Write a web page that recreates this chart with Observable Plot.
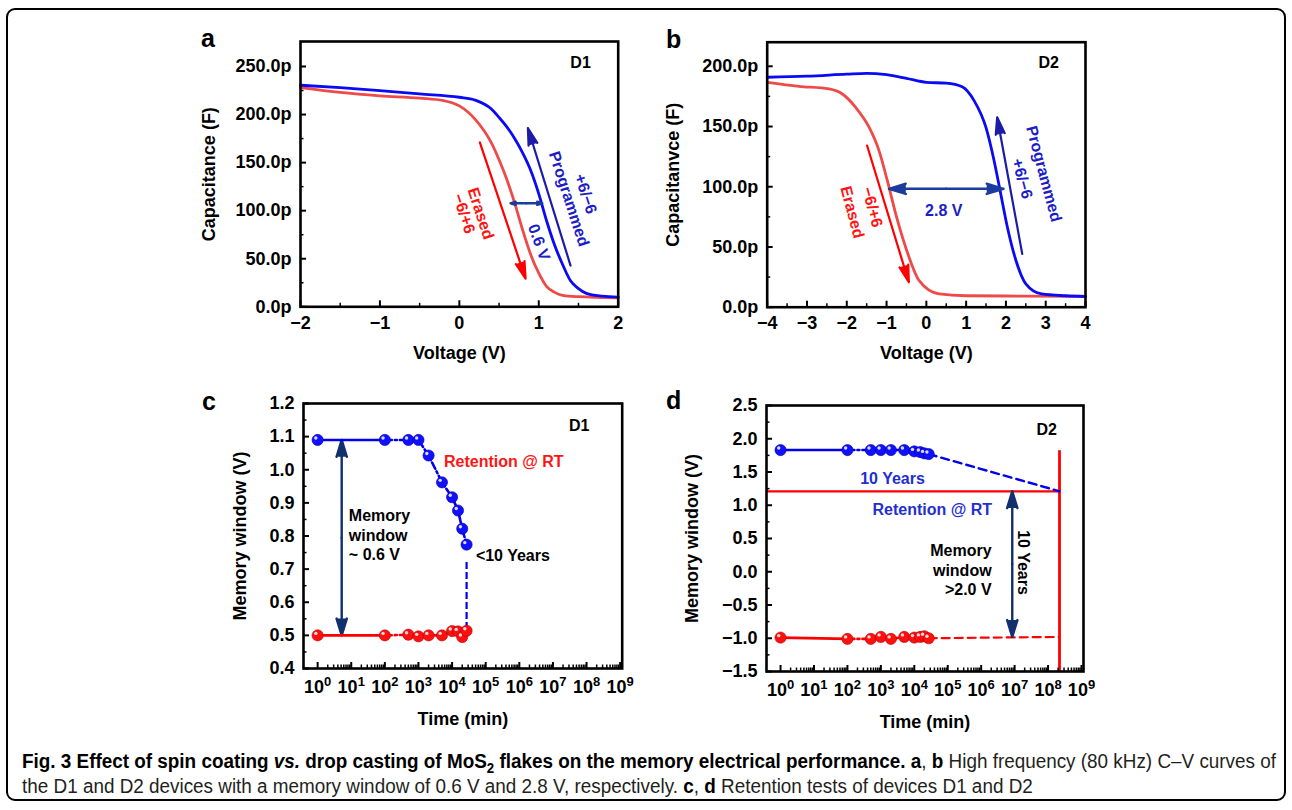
<!DOCTYPE html>
<html><head><meta charset="utf-8">
<script src="https://cdn.jsdelivr.net/npm/d3@7"></script>
<script src="https://cdn.jsdelivr.net/npm/@observablehq/plot@0.6"></script>
<style>
body{margin:0;background:#fff;}
#page{position:relative;width:1292px;height:810px;background:#fff;overflow:hidden;}
.box{position:absolute;left:6px;top:8px;width:1276px;height:789px;border:2px solid #000;border-radius:9px;box-sizing:content-box;}
.panel{position:absolute;}
.plabel{position:absolute;font:bold 25px "Liberation Sans",Arial,sans-serif;line-height:25px;color:#000;}
.cap{position:absolute;left:22px;font-family:"Liberation Sans",Arial,sans-serif;font-size:20px;line-height:25px;color:#231f20;white-space:nowrap;}
.cap span.in{display:inline-block;transform-origin:0 0;}
.cap b{color:#000;}
</style></head>
<body><div id="page">
<div class="box"></div>
<div class="plabel" style="left:201px;top:26px">a</div>
<div class="plabel" style="left:666px;top:27px">b</div>
<div class="plabel" style="left:202px;top:389px">c</div>
<div class="plabel" style="left:666px;top:388px">d</div>
<div class="cap" style="top:749px"><span class="in" id="cap1"><b>Fig. 3 Effect of spin coating <i>vs.</i> drop casting of MoS<sub style="font-size:14px;line-height:0">2</sub> flakes on the memory electrical performance.</b> <b>a</b>, <b>b</b> High frequency (80 kHz) C–V curves of</span></div>
<div class="cap" style="top:774px"><span class="in" id="cap2">the D1 and D2 devices with a memory window of 0.6 V and 2.8 V, respectively. <b>c</b>, <b>d</b> Retention tests of devices D1 and D2</span></div>
</div>
<script>
// ---------------- data ----------------
// Panel a (D1) C–V curves
const voltAProg = [-2,-1.5,-1,-0.5,0,0.2,0.4,0.5,0.6,0.7,0.8,0.9,1.0,1.1,1.2,1.3,1.4,1.5,1.6,1.8,2.0];
const capAProg  = [230.5,228,225,221.5,218,215,206,197,187,174.5,159.5,141.5,117.5,89,64,44,27,19,14,11,10];
const voltAErase = [-2,-1.5,-1,-0.5,-0.2,0,0.2,0.4,0.5,0.6,0.7,0.8,0.9,1.0,1.1,1.2,1.3,1.5,2.0];
const capAErase  = [228,223,219.5,217,214.5,209,195,171,153,132,107,79,54,35,21,15,12,10.5,9.3];
// Panel b (D2) C–V curves
const voltBProg = [-4,-3,-2,-1.5,-1,-0.5,0,0.5,0.9,1.2,1.5,1.7,1.87,2.04,2.25,2.5,2.9,3.5,4];
const capBProg  = [190.9,191.8,193.5,194.2,193,190,186.7,186,183,171.5,149,122,94,66,39,19.4,11,9.5,8.9];
const voltBErase = [-4,-3.2,-2.45,-2.11,-1.78,-1.44,-1.19,-0.98,-0.77,-0.52,-0.18,0.32,1,2,4];
const capBErase  = [186.7,183.4,181.2,177,166,149.4,130,105,77.5,49.8,22,11,9.5,9.3,9];
// Panel c (D1) retention
const timeC = [1,100,500,1000,2000,5000,1e4,1.5e4,2e4,2.7e4];
const progC = [1.09,1.09,1.09,1.09,1.043,0.962,0.917,0.877,0.822,0.774];
const eraseC = [0.50,0.50,0.502,0.497,0.50,0.50,0.513,0.512,0.495,0.514];
// Panel d (D2) retention
const timeD = [1,100,500,1000,2000,5000,1e4,1.5e4,2e4,2.7e4];
const progD = [1.83,1.83,1.83,1.83,1.83,1.83,1.81,1.80,1.78,1.77];
const eraseD = [-0.99,-1.01,-1.01,-0.98,-1.01,-0.98,-0.99,-0.98,-0.97,-1.0];
// annotation values
const sweepArrowsA = [{x1:0.258,y1:171,x2:0.834,y2:29.2,c:"erase"},{x1:1.40,y1:42.9,x2:0.863,y2:186,c:"prog"}];
const windowA = [{x1:0.645,x2:1.044,y:107.7}];
const sweepArrowsB = [{x1:-1.49,y1:134.2,x2:-0.44,y2:20.7,c:"erase"},{x1:2.41,y1:44.3,x2:1.78,y2:157.7,c:"prog"}];
const windowB = [{x1:-0.94,x2:1.94,y:98.3}];
const labelsA = [
  {x:0.267,y:96.9,t:"Erased",c:"erase",r:72},{x:0.057,y:96.9,t:"−6/+6",c:"erase",r:72},
  {x:1.379,y:112.2,t:"Programmed",c:"prog",r:72},{x:1.589,y:117.4,t:"+6/−6",c:"prog",r:72},
  {x:1.001,y:67.1,t:"0.6 V",c:"prog",r:70},{x:1.526,y:254.2,t:"D1",c:"k",r:0}];
const labelsB = [
  {x:-1.864,y:78.8,t:"Erased",c:"erase",r:75},{x:-1.362,y:83,t:"−6/+6",c:"erase",r:75},
  {x:2.95,y:110.7,t:"Programmed",c:"prog",r:75},{x:2.407,y:106.6,t:"+6/−6",c:"prog",r:75},
  {x:0.437,y:80.2,t:"2.8 V",c:"prog",r:0},{x:3.075,y:202.5,t:"D2",c:"k",r:0}];
const cutoffC = [{t:2.7e4,y1:0.72,y2:0.515}];
const windowC = [{t:5.2,y1:1.09,y2:0.50}];
const labelsC = [
  {t:8.5,y:0.805,s:"Memory\nwindow\n~ 0.6 V",c:"k",a:"start",r:0},
  {t:5750,y:1.028,s:"Retention @ RT",c:"erase",a:"start",r:0},
  {t:5.1e4,y:0.744,s:"<10 Years",c:"k",a:"start",r:0},
  {t:6e7,y:1.137,s:"D1",c:"k",a:"middle",r:0}];
const tenYearD = [{t:2.2e8,prog:1.21,erase:-0.98,top:1.82}];
const windowD = [{t:8.5e6,y1:1.21,y2:-0.98}];
const labelsD = [
  {t:2230,y:1.417,s:"10 Years",c:"blueT",a:"middle",r:0},
  {t:3.45e4,y:0.947,s:"Retention @ RT",c:"blueT",a:"middle",r:0},
  {t:2.05e6,y:0.034,s:"Memory\nwindow\n>2.0 V",c:"k",a:"end",r:0},
  {t:1.9e7,y:0.139,s:"10 Years",c:"k",a:"middle",r:90},
  {t:9.1e7,y:2.154,s:"D2",c:"k",a:"middle",r:0}];

// ---------------- styling ----------------
const FONT = '"Liberation Sans", Arial, sans-serif';
const BLUE = "#0a0af5", RED = "#ef4a4a", PURE_RED = "#ff0000", DARKBLUE = "#1c1ca8", NAVY = "#12306e", DBL = "#1b3c9c";
const colorOf = {erase:"#ff1414", prog:"#1d1dc8", k:"#000", blueT:"#1f2fd2"};
const sup = "⁰¹²³⁴⁵⁶⁷⁸⁹";
const decades = d3.range(0,10).map(k => 10**k);
const minorDec = d3.range(0,9).flatMap(k => d3.range(2,10).map(m => m*10**k));
const SVGNS = "http://www.w3.org/2000/svg";

function geom(p){
  return {width:p.width,height:p.height,marginLeft:p.fl-p.left,marginRight:p.left+p.width-p.fr,
          marginTop:p.ft-p.top,marginBottom:p.top+p.height-p.fb,W:p.fr-p.fl,H:p.fb-p.ft};
}
function ticks(g, xMaj, xMin, yMaj, yMin){
  return [
    Plot.tickX(xMaj,{x:d=>d,insetTop:g.H-6,stroke:"#000",strokeWidth:2}),
    Plot.tickX(xMin,{x:d=>d,insetTop:g.H-3.5,stroke:"#000",strokeWidth:1.5}),
    Plot.tickY(yMaj,{y:d=>d,insetRight:g.W-6,stroke:"#000",strokeWidth:2}),
    Plot.tickY(yMin,{y:d=>d,insetRight:g.W-3.5,stroke:"#000",strokeWidth:1.5})
  ];
}
function place(p, svg){
  const div = document.createElement("div");
  div.className = "panel"; div.style.left = p.left+"px"; div.style.top = p.top+"px";
  div.appendChild(svg); document.getElementById("page").appendChild(div);
}
function style(){ return {fontFamily:FONT,fontSize:"18px",fontWeight:"bold",background:"transparent",overflow:"visible",color:"#000"}; }
function doubleArrow(rows, horiz, color, logMid){
  const mid = (a,b) => logMid ? Math.sqrt(a*b) : (a+b)/2;
  const opts = {stroke:color,fill:color,strokeWidth:2.4,headLength:11,headAngle:34,strokeLinejoin:"miter"};
  if (horiz) return [
    Plot.arrow(rows,{x1:d=>mid(d.x1,d.x2),x2:"x1",y1:"y",y2:"y",...opts}),
    Plot.arrow(rows,{x1:d=>mid(d.x1,d.x2),x2:"x2",y1:"y",y2:"y",...opts})];
  return [
    Plot.arrow(rows,{x1:"t",x2:"t",y1:d=>(d.y1+d.y2)/2,y2:"y1",...opts}),
    Plot.arrow(rows,{x1:"t",x2:"t",y1:d=>(d.y1+d.y2)/2,y2:"y2",...opts})];
}
function textsByAnchor(rows){
  return ["start","middle","end"].map(a => Plot.text(rows,{filter:d=>d.a===a,x:"t",y:"y",text:"s",rotate:"r",
    fill:d=>colorOf[d.c],textAnchor:a,fontSize:16,fontWeight:"bold",lineHeight:1.2,lineAnchor:"middle"}));
}
function cvPanel(p, xDom, yDom, xMaj, xMin, yMaj, yMin, ylabel, ylabOff, prog, erase, arrows, win, labels){
  const g = geom(p);
  const arrowColor = d => d.c==="erase"?PURE_RED:DARKBLUE;
  return Plot.plot({
    width:g.width,height:g.height,marginLeft:g.marginLeft,marginRight:g.marginRight,marginTop:g.marginTop,marginBottom:g.marginBottom,
    style:style(),
    x:{domain:xDom},y:{domain:yDom},
    marks:[
      Plot.line(erase,{x:"v",y:"c",stroke:RED,strokeWidth:2.8,curve:"monotone-x"}),
      Plot.line(prog,{x:"v",y:"c",stroke:BLUE,strokeWidth:2.8,curve:"monotone-x"}),
      Plot.arrow(arrows,{x1:"x1",y1:"y1",x2:"x2",y2:"y2",stroke:arrowColor,fill:arrowColor,strokeWidth:2.2,headLength:12,headAngle:30,strokeLinejoin:"miter"}),
      ...doubleArrow(win,true,DBL,false),
      Plot.text(labels,{x:"x",y:"y",text:"t",rotate:"r",fill:d=>colorOf[d.c],fontSize:16,fontWeight:"bold",textAnchor:"middle",lineAnchor:"middle"}),
      ...ticks(g,xMaj,xMin,yMaj,yMin),
      Plot.axisX({ticks:xMaj,tickSize:0,tickPadding:9,tickFormat:d=>d3.format("d")(d).replace("-","−"),label:"Voltage (V)",labelAnchor:"center",labelOffset:52,labelArrow:"none"}),
      Plot.axisY({ticks:yMaj,tickSize:0,tickPadding:9,tickFormat:d=>d.toFixed(1)+"p",label:ylabel,labelAnchor:"center",labelOffset:ylabOff,labelArrow:"none"}),
      Plot.frame({stroke:"#000",strokeWidth:2.6})
    ]
  });
}
function balls(rows, fill, edge){
  return [
    Plot.dot(rows,{x:"t",y:"v",r:5.6,fill,stroke:edge,strokeWidth:0.6}),
    Plot.dot(rows,{x:"t",y:"v",r:1.7,fill:"#fff",fillOpacity:0.85,dx:-1.8,dy:-2})
  ];
}
function superscripts(svg){
  svg.querySelectorAll('[aria-label="x-axis tick label"] text').forEach(t => {
    const s = t.textContent;
    if (!s.startsWith("10")) return;
    const e = s.slice(2).split("").map(ch => sup.indexOf(ch)).join("");
    while (t.firstChild) t.removeChild(t.firstChild);
    const a = document.createElementNS(SVGNS,"tspan"); a.textContent = "10";
    const b = document.createElementNS(SVGNS,"tspan"); b.textContent = e;
    b.setAttribute("font-size","13px"); b.setAttribute("dy","-0.55em");
    t.appendChild(a); t.appendChild(b);
  });
  return svg;
}
function retPanel(p, yDom, yMaj, yMin, ylabOff, prog, erase, extra){
  const g = geom(p);
  const seg = (rows, color) => [
    Plot.line(rows.slice(0,2),{x:"t",y:"v",stroke:color,strokeWidth:2.6}),
    Plot.line(rows.slice(1),{x:"t",y:"v",stroke:color,strokeWidth:2.6,strokeDasharray:"7,3,2,3"})];
  return superscripts(Plot.plot({
    width:g.width,height:g.height,marginLeft:g.marginLeft,marginRight:g.marginRight,marginTop:g.marginTop,marginBottom:g.marginBottom,
    style:style(),
    x:{type:"log",domain:[10**-0.42,10**9.06]},y:{domain:yDom},
    marks:[
      ...extra,
      ...seg(prog,"#0000ee"), ...seg(erase,"#ff0000"),
      ...balls(erase,"#ff1010","#b00000"), ...balls(prog,"#1010ff","#0000a0"),
      ...ticks(g,decades,minorDec,yMaj,yMin),
      Plot.axisX({ticks:decades,tickSize:0,tickPadding:12,tickFormat:d=>"10"+sup[Math.round(Math.log10(d))],label:"Time (min)",labelAnchor:"center",labelOffset:56,labelArrow:"none"}),
      Plot.axisY({ticks:yMaj,tickSize:0,tickPadding:9,tickFormat:d=>d3.format(".1f")(d).replace("-","−"),label:"Memory window (V)",labelAnchor:"center",labelOffset:ylabOff,labelArrow:"none"}),
      Plot.frame({stroke:"#000",strokeWidth:2.6})
    ]
  }));
}

// ---------------- panels ----------------
const PA = {left:190,top:20,width:440,height:352,fl:300,fr:617.7,ft:41,fb:306.3};
const PB = {left:650,top:20,width:440,height:352,fl:766.7,fr:1085,ft:41.7,fb:306.7};
const PC = {left:190,top:380,width:440,height:352,fl:303,fr:621.7,ft:403,fb:668};
const PD = {left:650,top:380,width:440,height:352,fl:766,fr:1083,ft:405,fb:671};

const rows = (xs, ys) => xs.map((v,i) => ({v, c:ys[i]}));
const trows = (ts, vs) => ts.map((t,i) => ({t, v:vs[i]}));

place(PA, cvPanel(PA,[-2,2],[0,276],[-2,-1,0,1,2],[-1.5,-0.5,0.5,1.5],d3.range(0,251,50),d3.range(25,251,50),
  "Capacitance (F)",98,rows(voltAProg,capAProg),rows(voltAErase,capAErase),sweepArrowsA,windowA,labelsA));
place(PB, cvPanel(PB,[-4,4],[0,220],d3.range(-4,5),d3.range(-3.5,4,1),d3.range(0,201,50),d3.range(25,201,50),
  "Capacitanvce (F)",101,rows(voltBProg,capBProg),rows(voltBErase,capBErase),sweepArrowsB,windowB,labelsB));

const progCrows = trows(timeC,progC), eraseCrows = trows(timeC,eraseC);
place(PC, retPanel(PC,[0.4,1.2],d3.range(4,13).map(k=>k/10),d3.range(4,12).map(k=>k/10+0.05),70,progCrows,eraseCrows,[
  Plot.ruleX(cutoffC,{x:"t",y1:"y1",y2:"y2",stroke:"#0000ee",strokeWidth:2.2,strokeDasharray:"7,3"}),
  ...doubleArrow(windowC,false,NAVY,true),
  ...textsByAnchor(labelsC)
]));

const progDrows = trows(timeD,progD), eraseDrows = trows(timeD,eraseD);
const lastP = progDrows[progDrows.length-1], lastE = eraseDrows[eraseDrows.length-1];
const ty = tenYearD[0];
place(PD, retPanel(PD,[-1.5,2.5],d3.range(-3,6).map(k=>k/2),d3.range(-3,5).map(k=>k/2+0.25),81,progDrows,eraseDrows,[
  Plot.ruleY(tenYearD,{y:"prog",x1:10**-0.42,x2:"t",stroke:"#ff0000",strokeWidth:2.2}),
  Plot.ruleX(tenYearD,{x:"t",y1:"top",y2:-1.5,stroke:"#ff0000",strokeWidth:2.8}),
  Plot.line([lastP,{t:ty.t,v:ty.prog}],{x:"t",y:"v",stroke:"#0000ee",strokeWidth:2.4,strokeDasharray:"8,5"}),
  Plot.line([lastE,{t:ty.t,v:ty.erase}],{x:"t",y:"v",stroke:"#ff0000",strokeWidth:2.2,strokeDasharray:"8,5"}),
  ...doubleArrow(windowD,false,NAVY,true),
  ...textsByAnchor(labelsD)
]));

// caption: condense to the reference line width
const c1 = document.getElementById("cap1"), c2 = document.getElementById("cap2");
const k = 1254 / c1.getBoundingClientRect().width;
c1.style.transform = `scaleX(${k})`; c2.style.transform = `scaleX(${k})`;
</script>
</body></html>
